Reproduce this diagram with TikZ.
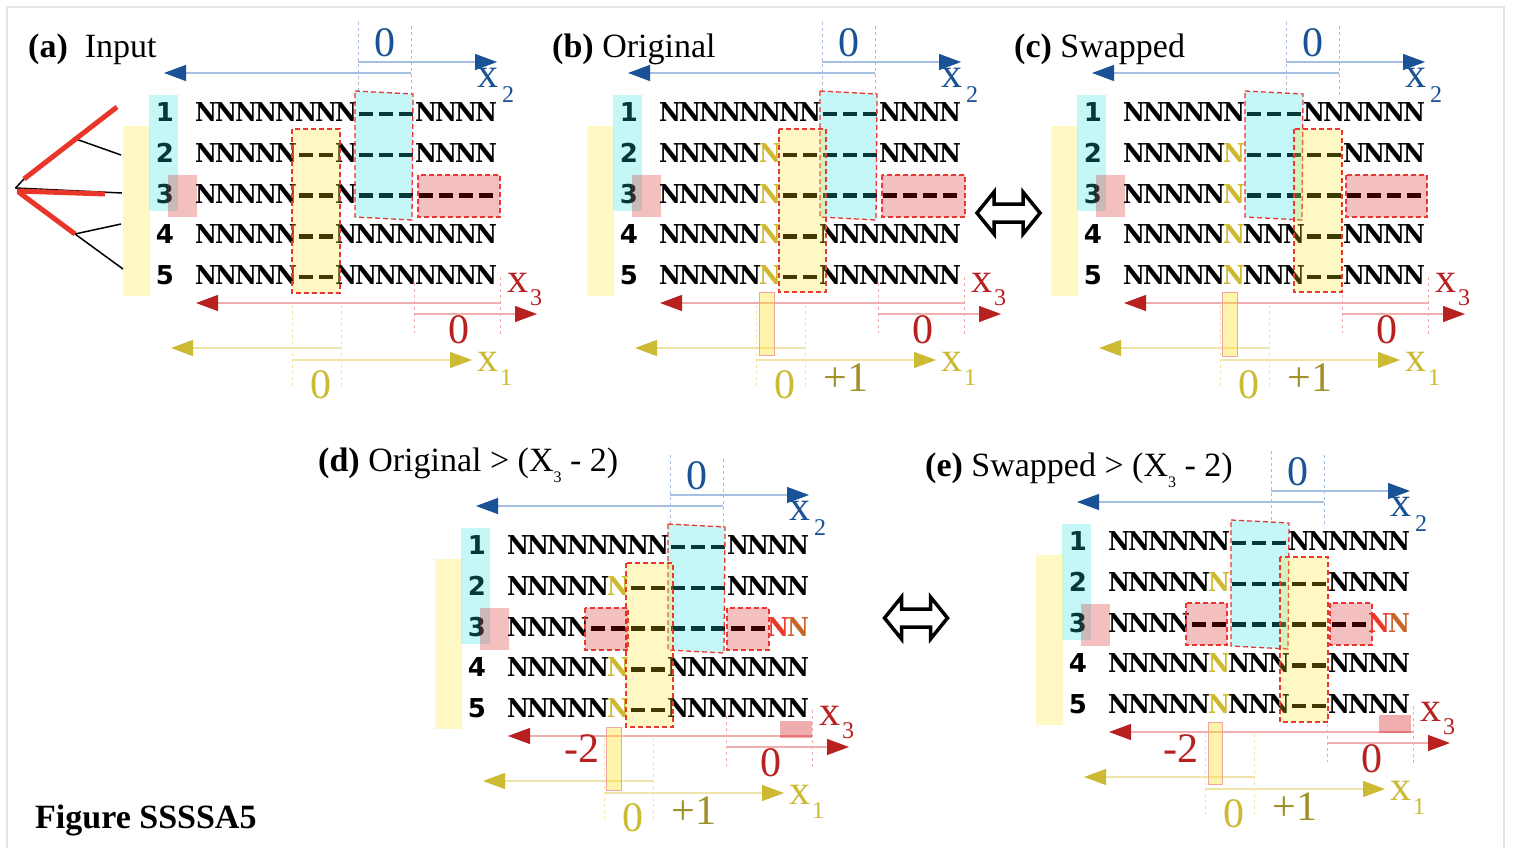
\documentclass[tikz,border=0pt]{standalone}
\usepackage{fontspec}
\setmainfont{Liberation Serif}
\newfontfamily\seqfont{DejaVu Serif}[FakeStretch=0.92]
\newfontfamily\numfont{DejaVu Sans}
\usetikzlibrary{arrows.meta}

\definecolor{cyanbase}{RGB}{30,225,225}
\definecolor{yelbase}{RGB}{255,225,20}
\definecolor{redbase}{RGB}{210,0,0}
\definecolor{boxedge}{RGB}{235,55,50}
\definecolor{axB}{RGB}{25,82,150}
\definecolor{axBl}{RGB}{165,190,225}
\definecolor{axR}{RGB}{185,32,32}
\definecolor{axRl}{RGB}{240,175,175}
\definecolor{axY}{RGB}{205,185,50}
\definecolor{axYl}{RGB}{240,228,170}
\definecolor{plusY}{RGB}{160,145,40}
\definecolor{seqY}{RGB}{205,185,45}
\definecolor{seqR}{RGB}{235,55,40}
\definecolor{seqO}{RGB}{200,100,40}
\definecolor{treeR}{RGB}{232,55,42}
\definecolor{framegray}{RGB}{228,228,228}
\definecolor{markedge}{RGB}{242,165,160}

\tikzset{
  nch/.style={inner sep=0pt, font=\seqfont\bfseries\fontsize{26}{30}\selectfont},
  seqdash/.style={line width=4.5pt},
  rownum/.style={inner sep=0pt, font=\numfont\bfseries\fontsize{26}{30}\selectfont},
  title/.style={inner sep=0pt, anchor=base west, font=\fontsize{34}{40}\selectfont},
  axlbl/.style={inner sep=0pt, font=\fontsize{42}{48}\selectfont},
  axsub/.style={inner sep=0pt, font=\fontsize{24}{28}\selectfont},
  cyanov/.style={fill=cyanbase, fill opacity=0.25},
  yelov/.style={fill=yelbase, fill opacity=0.25},
  redov/.style={fill=redbase, fill opacity=0.25},
  regionbox/.style={draw=boxedge, line width=1.3pt, dash pattern=on 5pt off 3pt},
  shiftmark/.style={fill=yelbase, fill opacity=0.35, draw=markedge, line width=1pt},
  endmark/.style={fill=redbase, fill opacity=0.32},
  guide/.style={line width=0.8pt, dash pattern=on 3pt off 3pt},
  axarrow/.style={line width=1.1pt, -{Triangle[length=22pt,width=16pt,color=#1]}},
  swaparrow/.style={line width=3.5pt, line join=miter},
  treeedge/.style={line width=1.5pt},
  treebold/.style={treeR, line width=5pt},
}

\newcommand\lowsub[1]{\raisebox{-11pt}{\fontsize{16}{16}\selectfont #1}}

% One sequence row: N = base, Y/R/O = coloured base, - = gap
\makeatletter
\newcount\sr@col
\newcommand\seqrow[3]{\def\sr@row{#1}\def\sr@pre{#2}\sr@col=0 \sr@next#3\relax}
\def\sr@next#1{\ifx#1\relax\else\sr@put#1\advance\sr@col by 1 \expandafter\sr@next\fi}
\def\sr@put#1{%
  \pgfmathsetmacro\sr@x{206+20*\sr@col}%
  \pgfmathsetmacro\sr@y{112+40.8*(\sr@row-1)}%
  \if#1-\draw[seqdash] (\sr@x-7,\sr@y+2) -- (\sr@x+7,\sr@y+2);\fi
  \if#1N\node[nch] (\sr@pre\sr@row-\the\sr@col) at (\sr@x,\sr@y) {N};\fi
  \if#1Y\node[nch, text=seqY] (\sr@pre\sr@row-\the\sr@col) at (\sr@x,\sr@y) {N};\fi
  \if#1R\node[nch, text=seqR] (\sr@pre\sr@row-\the\sr@col) at (\sr@x,\sr@y) {N};\fi
  \if#1O\node[nch, text=seqO] (\sr@pre\sr@row-\the\sr@col) at (\sr@x,\sr@y) {N};\fi
}
\makeatother

% Row numbers, their colour bands and the three axes of one panel
\newcommand\panelbase[1]{%
  \foreach \r in {1,...,5}{%
    \pgfmathsetmacro\ry{112+40.8*(\r-1)}%
    \node[rownum] (#1-n\r) at (165,\ry) {\r};}
  \fill[cyanov] (149,95) rectangle (178,211);
  \fill[yelov] (123,126) rectangle (150,296);
  \fill[redov] (168,175) rectangle (197,217);
  % x2
  \draw[guide, axBl] (358,22) -- (358,92);
  \draw[guide, axBl] (411,26) -- (411,96);
  \coordinate (#1-x2a) at (411,73); \coordinate (#1-x2b) at (164,73);
  \coordinate (#1-x2c) at (358,62); \coordinate (#1-x2d) at (497,62);
  \draw[axarrow=axB, axBl] (#1-x2a) -- (#1-x2b);
  \draw[axarrow=axB, axBl] (#1-x2c) -- (#1-x2d);
  \node[axlbl, text=axB] (#1-z2) at (385,43) {0};
  \node[axlbl, text=axB] (#1-lx2) at (488,78) {x};
  \node[axsub, text=axB] (#1-ls2) at (508,95) {2};
  % x3
  \draw[guide, axRl] (414,283) -- (414,333);
  \draw[guide, axRl] (500,277) -- (500,335);
  \coordinate (#1-x3a) at (500,303); \coordinate (#1-x3b) at (196,303);
  \coordinate (#1-x3c) at (414,314); \coordinate (#1-x3d) at (537,314);
  \draw[axarrow=axR, axRl] (#1-x3a) -- (#1-x3b);
  \draw[axarrow=axR, axRl] (#1-x3c) -- (#1-x3d);
  \node[axlbl, text=axR] (#1-z3) at (459,330) {0};
  \node[axlbl, text=axR] (#1-lx3) at (518,283) {x};
  \node[axsub, text=axR] (#1-ls3) at (536,298) {3};
  % x1
  \draw[guide, axYl] (292,305) -- (292,387);
  \draw[guide, axYl] (341,305) -- (341,387);
  \coordinate (#1-x1a) at (341,348); \coordinate (#1-x1b) at (171,348);
  \coordinate (#1-x1c) at (292,360); \coordinate (#1-x1d) at (472,360);
  \draw[axarrow=axY, axYl] (#1-x1a) -- (#1-x1b);
  \draw[axarrow=axY, axYl] (#1-x1c) -- (#1-x1d);
  \node[axlbl, text=axY] (#1-z1) at (321,385) {0};
  \node[axlbl, text=axY] (#1-lx1) at (488,362) {x};
  \node[axsub, text=axY] (#1-ls1) at (506,378) {1};
}

\newcommand\swapsign{%
  \draw[swaparrow] (977,213) -- (994,192) -- (994,204) -- (1023,204) -- (1023,192)
    -- (1040,213) -- (1023,234) -- (1023,222) -- (994,222) -- (994,234) -- cycle;}

\begin{document}
\begin{tikzpicture}[x=1pt, y=-1pt]
\useasboundingbox (0,0) rectangle (1514,848);
\fill[white] (0,0) rectangle (1514,848);
\draw[framegray, line width=1.5pt] (7,848) -- (7,7) -- (1504,7) -- (1504,848);

% titles
\node[title] (ta) at (28,58) {\textbf{(a)}\ \ Input};
\node[title] (tb) at (552,58) {\textbf{(b)} Original};
\node[title] (tc) at (1014,58) {\textbf{(c)} Swapped};
\node[title] (td) at (318,471) {\textbf{(d)} Original > (X\lowsub{3} - 2)};
\node[title] (te) at (925,476) {\textbf{(e)} Swapped > (X\lowsub{3} - 2)};
\node[title, font=\bfseries\fontsize{34}{40}\selectfont] (fig) at (35,828) {Figure SSSSA5};

% ---------- (a) input with its tree ----------
\coordinate (root) at (15.5,188);
\coordinate (t1) at (24,179);  \coordinate (t1e) at (117,107);
\coordinate (n12) at (73,138); \coordinate (leaf2) at (121,155);
\coordinate (leaf3) at (122,193); \coordinate (t3e) at (105,194);
\coordinate (n45) at (75,234); \coordinate (leaf4) at (121,224);
\coordinate (leaf5) at (123,269);
\draw[treeedge] (root) -- (t1);
\draw[treeedge] (root) -- (leaf3);
\draw[treeedge] (n12) -- (leaf2);
\draw[treeedge] (n45) -- (leaf4);
\draw[treeedge] (n45) -- (leaf5);
\draw[treebold] (t1) -- (t1e);
\draw[treebold] (root) ++(1.5,3) -- (t3e);
\draw[treebold] (root) ++(3,4) -- (n45);

\begin{scope}
  \panelbase{a}
  \seqrow{1}{a}{NNNNNNNN---NNNN}
  \seqrow{2}{a}{NNNNN--N---NNNN}
  \seqrow{3}{a}{NNNNN--N-------}
  \seqrow{4}{a}{NNNNN--NNNNNNNN}
  \seqrow{5}{a}{NNNNN--NNNNNNNN}
  \filldraw[cyanov, regionbox] (355,91) -- (413,94) -- (412,220) -- (355,217) -- cycle;
  \filldraw[yelov, regionbox] (292,129) rectangle (340,293);
  \filldraw[redov, regionbox] (418,175) rectangle (500,217);
\end{scope}

% ---------- (b) original ----------
\begin{scope}[shift={(464,0)}]
  \panelbase{b}
  \seqrow{1}{b}{NNNNNNNN---NNNN}
  \seqrow{2}{b}{NNNNNY-----NNNN}
  \seqrow{3}{b}{NNNNNY---------}
  \seqrow{4}{b}{NNNNNY--NNNNNNN}
  \seqrow{5}{b}{NNNNNY--NNNNNNN}
  \filldraw[cyanov, regionbox] (356,91) -- (413,94) -- (412,220) -- (356,217) -- cycle;
  \filldraw[yelov, regionbox] (315,129) rectangle (362,292);
  \filldraw[redov, regionbox] (418,175) rectangle (501,217);
  \filldraw[shiftmark] (295,292) rectangle (310,355);
  \node[axlbl, text=plusY] (b-p1) at (382,378) {+1};
\end{scope}

\swapsign

% ---------- (c) swapped ----------
\begin{scope}[shift={(928,0)}]
  \panelbase{c}
  \seqrow{1}{c}{NNNNNN---NNNNNN}
  \seqrow{2}{c}{NNNNNY-----NNNN}
  \seqrow{3}{c}{NNNNNY---------}
  \seqrow{4}{c}{NNNNNYNNN--NNNN}
  \seqrow{5}{c}{NNNNNYNNN--NNNN}
  \filldraw[cyanov, regionbox] (317,91) -- (375,94) -- (374,220) -- (317,217) -- cycle;
  \filldraw[yelov, regionbox] (366,129) rectangle (414,292);
  \filldraw[redov, regionbox] (418,175) rectangle (499,217);
  \filldraw[shiftmark] (294,292) rectangle (309,356);
  \node[axlbl, text=plusY] (c-p1) at (382,378) {+1};
\end{scope}

% ---------- (d) original, x3 shortened ----------
\begin{scope}[shift={(312,433)}]
  \panelbase{d}
  \seqrow{1}{d}{NNNNNNNN---NNNN}
  \seqrow{2}{d}{NNNNNY-----NNNN}
  \seqrow{3}{d}{NNNN---------RO}
  \seqrow{4}{d}{NNNNNY--NNNNNNN}
  \seqrow{5}{d}{NNNNNY--NNNNNNN}
  \filldraw[cyanov, regionbox] (356,91) -- (413,94) -- (412,220) -- (356,217) -- cycle;
  \filldraw[yelov, regionbox] (314,130) rectangle (361,294);
  \filldraw[redov, regionbox] (273,175) rectangle (316,217);
  \filldraw[redov, regionbox] (415,175) rectangle (457,217);
  \filldraw[shiftmark] (294,294) rectangle (309,357);
  \fill[endmark] (468,288) rectangle (500,305);
  \node[axlbl, text=axR] (d-m2) at (270,316) {-2};
  \node[axlbl, text=plusY] (d-p1) at (382,378) {+1};
\end{scope}

\begin{scope}[shift={(-92.5,405)}]
  \swapsign
\end{scope}

% ---------- (e) swapped, x3 shortened ----------
\begin{scope}[shift={(913,429)}]
  \panelbase{e}
  \seqrow{1}{e}{NNNNNN---NNNNNN}
  \seqrow{2}{e}{NNNNNY-----NNNN}
  \seqrow{3}{e}{NNNN---------RO}
  \seqrow{4}{e}{NNNNNYNNN--NNNN}
  \seqrow{5}{e}{NNNNNYNNN--NNNN}
  \filldraw[cyanov, regionbox] (318,91) -- (376,94) -- (375,220) -- (318,217) -- cycle;
  \filldraw[yelov, regionbox] (367,128) rectangle (415,293);
  \filldraw[redov, regionbox] (273,174) rectangle (314,216);
  \filldraw[redov, regionbox] (417,174) rectangle (459,216);
  \filldraw[shiftmark] (295,293) rectangle (309,355);
  \fill[endmark] (466,286) rectangle (498,304);
  \node[axlbl, text=axR] (e-m2) at (268,320) {-2};
  \node[axlbl, text=plusY] (e-p1) at (382,378) {+1};
\end{scope}
\end{tikzpicture}
\end{document}
